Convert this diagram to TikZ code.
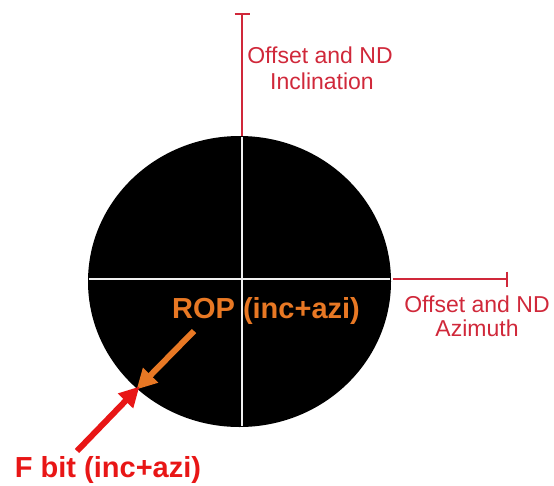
\documentclass[tikz,border=0pt]{standalone}
\usepackage{fontspec}
\setmainfont{Liberation Sans}
\usetikzlibrary{arrows.meta,shapes.geometric}
\definecolor{axisred}{RGB}{208,40,58}
\definecolor{roporange}{RGB}{232,120,36}
\definecolor{fbitred}{RGB}{232,22,22}
\tikzset{
  axisline/.style={draw=axisred,line width=2pt,-{Bar[width=15pt,line width=2pt]}},
  axislabel/.style={text=axisred,font=\fontsize{23}{26}\selectfont,align=center,inner sep=0pt},
  crossline/.style={draw=white!88!gray,line width=2pt},
  biglabel/.style={font=\fontsize{29}{32}\selectfont\bfseries,inner sep=0pt,anchor=base},
  fatarrow/.style={line width=6pt,-{Triangle[length=20pt,width=20pt]},shorten >=-2pt}
}
\begin{document}
\begin{tikzpicture}[x=1pt,y=-1pt]
\useasboundingbox (0,0) rectangle (554,485);
% disc
\node[ellipse,fill=black,draw=none,minimum width=303pt,minimum height=291pt,inner sep=0pt] (disc) at (239.5,281.5) {};
% cross lines
\coordinate (vt) at (242,137);
\coordinate (vb) at (242,426);
\coordinate (hl) at (89,279);
\coordinate (hr) at (390,279);
\draw[crossline] (vt) -- (vb);
\draw[crossline] (hl) -- (hr);
% axes
\coordinate (incend) at (242,13);
\coordinate (incstart) at (242,136);
\coordinate (azistart) at (393,279);
\coordinate (aziend) at (508,279);
\draw[axisline] (incstart) -- (incend);
\draw[axisline] (azistart) -- (aziend);
% labels
\node[axislabel,anchor=base] (inc1) at (320,63) {Offset and ND};
\node[axislabel,anchor=base] (inc2) at (322,89) {Inclination};
\node[axislabel,anchor=base] (azi1) at (477,312) {Offset and ND};
\node[axislabel,anchor=base] (azi2) at (477,336) {Azimuth};
\node[biglabel,text=roporange] (rop) at (266,318) {ROP (inc+azi)};
\node[biglabel,text=fbitred] (fbit) at (108,477) {F bit (inc+azi)};
% arrows
\coordinate (tip) at (138,388);
\coordinate (ropstart) at (194,331);
\coordinate (fbitstart) at (77,451);
\draw[fatarrow,draw=roporange,fill=roporange] (ropstart) -- (tip);
\draw[fatarrow,draw=fbitred,fill=fbitred] (fbitstart) -- (tip);
\end{tikzpicture}
\end{document}
